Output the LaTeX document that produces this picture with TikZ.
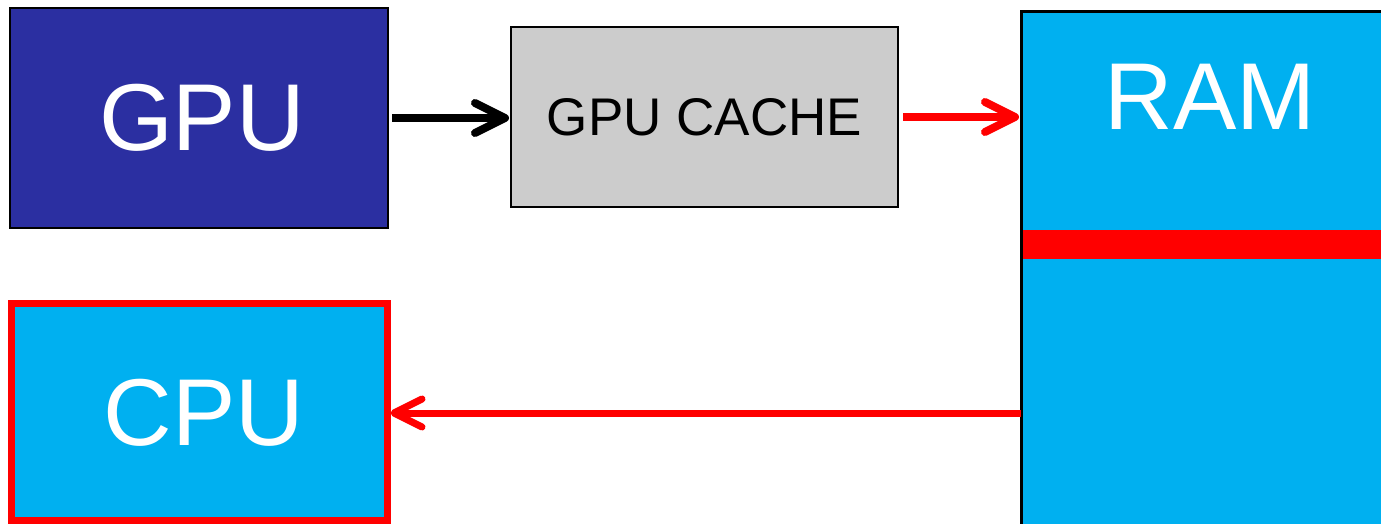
\documentclass[tikz,border=0pt]{standalone}
\usepackage{fontspec}
\setmainfont{Liberation Sans}
\usetikzlibrary{arrows.meta}
\definecolor{gpublue}{HTML}{2B2FA1}
\definecolor{skyb}{HTML}{00B0F0}
\definecolor{cachegray}{HTML}{CCCCCC}
\definecolor{myred}{HTML}{FF0000}
\tikzset{
  box/.style={rectangle, inner sep=0pt, outer sep=0pt},
  bigtext/.style={font=\fontsize{47.5}{47.5}\selectfont, text=white, inner sep=0pt},
  arr/.style={line width=4pt, -{Straight Barb[round,length=15pt,width=15pt]}},
}
\begin{document}
\begin{tikzpicture}[x=0.5pt,y=-0.5pt]
\clip (0,0) rectangle (1381,524);
\fill[white] (0,0) rectangle (1381,524);
% boxes
\node[box, draw=black, line width=1pt, fill=gpublue, minimum width=189pt, minimum height=110pt] (gpu) at (199,118) {};
\node[bigtext] (gputxt) at (202,118) {GPU};
\node[box, draw=black, line width=1pt, fill=cachegray, minimum width=193.5pt, minimum height=90pt] (cache) at (704.5,117)
  {\fontsize{26.5}{26.5}\selectfont GPU CACHE};
\node[box, draw=black, line width=1.5pt, fill=skyb, minimum width=190pt, minimum height=270pt] (ram) at (1211,282) {};
\fill[myred] (1022.5,230) rectangle (1400,259);
\node[bigtext] (ramtxt) at (1210,97) {RAM};
\node[box, draw=myred, line width=3.5pt, fill=skyb, minimum width=188pt, minimum height=108.5pt] (cpu) at (199.5,412) {};
\node[bigtext] (cputxt) at (204,413) {CPU};
% arrows
\draw[arr, black, shorten <=2pt, shorten >=1pt] (gpu.east) -- (cache.west |- gpu.east);
\draw[arr, myred, shorten <=2.5pt, shorten >=1pt] (cache.east) -- (ram.west |- cache.east);
\coordinate (rin) at (ram.west |- 0,413);
\draw[line width=3.5pt, myred, -{Straight Barb[round,length=14pt,width=14pt]}, shorten >=1.5pt] (rin) -- (cpu.east |- rin);
\end{tikzpicture}
\end{document}
